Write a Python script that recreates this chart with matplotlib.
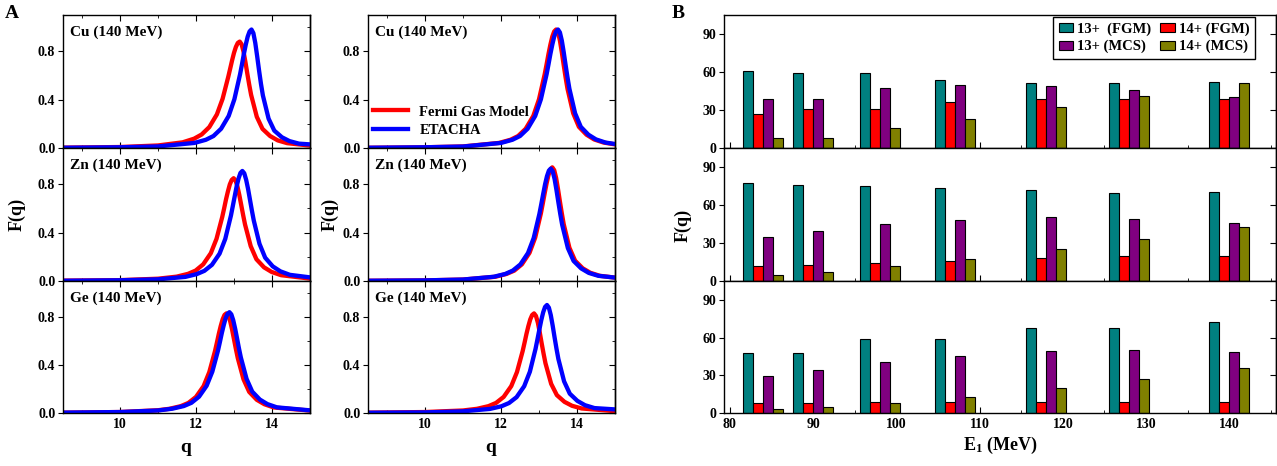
import matplotlib
matplotlib.use("Agg")
import matplotlib.pyplot as plt
from matplotlib.ticker import MultipleLocator
from matplotlib.patches import Patch

plt.rcParams['font.family'] = ['Liberation Serif', 'DejaVu Serif']
plt.rcParams['font.weight'] = 'bold'
plt.rcParams['axes.labelweight'] = 'bold'
plt.rcParams['axes.linewidth'] = 1.0
plt.rcParams['mathtext.fontset'] = 'custom'
plt.rcParams['mathtext.rm'] = 'Liberation Serif:bold'
plt.rcParams['mathtext.it'] = 'Liberation Serif:bold'

# ---- panel A: F(q) profiles, Fermi gas model (red) vs ETACHA (blue) ----
# left column
cu_l_fgm_q = [8.5, 10, 11, 11.65, 11.95, 12.15, 12.35, 12.55, 12.7, 12.85, 12.9, 12.95, 13.0, 13.05, 13.1,
              13.15, 13.2, 13.25, 13.3, 13.35, 13.4, 13.45, 13.6, 13.75, 13.95, 14.15, 14.4, 15]
cu_l_fgm_f = [0.003, 0.008, 0.021, 0.047, 0.077, 0.112, 0.173, 0.278, 0.407, 0.590, 0.657, 0.725, 0.787,
              0.836, 0.869, 0.88, 0.858, 0.798, 0.712, 0.616, 0.524, 0.44, 0.258, 0.158, 0.099, 0.063,
              0.040, 0.020]
cu_l_eta_q = [8.5, 10, 11, 11.96, 12.26, 12.46, 12.66, 12.86, 13.01, 13.16, 13.21, 13.26, 13.31, 13.36,
              13.41, 13.46, 13.51, 13.56, 13.61, 13.66, 13.71, 13.76, 13.91, 14.06, 14.26, 14.46, 14.71, 15]
cu_l_eta_f = [0.002, 0.006, 0.013, 0.042, 0.068, 0.099, 0.159, 0.265, 0.403, 0.610, 0.692, 0.778, 0.855,
              0.921, 0.964, 0.98, 0.950, 0.869, 0.758, 0.640, 0.530, 0.435, 0.243, 0.144, 0.089, 0.057,
              0.036, 0.030]

zn_l_fgm_q = [8.5, 10, 11, 11.49, 11.79, 11.99, 12.19, 12.39, 12.54, 12.69, 12.74, 12.79, 12.84, 12.89,
              12.94, 12.99, 13.04, 13.09, 13.14, 13.19, 13.24, 13.29, 13.44, 13.59, 13.79, 13.99, 14.24, 15]
zn_l_fgm_f = [0.003, 0.007, 0.019, 0.036, 0.059, 0.086, 0.138, 0.230, 0.349, 0.529, 0.600, 0.675, 0.741,
              0.799, 0.836, 0.85, 0.832, 0.782, 0.711, 0.629, 0.546, 0.468, 0.288, 0.180, 0.113, 0.075,
              0.048, 0.020]
zn_l_eta_q = [8.5, 10, 11, 11.72, 12.02, 12.22, 12.42, 12.62, 12.77, 12.92, 12.97, 13.02, 13.07, 13.12,
              13.17, 13.22, 13.27, 13.32, 13.37, 13.42, 13.47, 13.52, 13.67, 13.82, 14.02, 14.22, 14.47, 15]
zn_l_eta_f = [0.002, 0.006, 0.014, 0.034, 0.057, 0.084, 0.134, 0.226, 0.348, 0.542, 0.622, 0.703, 0.783,
              0.848, 0.894, 0.91, 0.891, 0.837, 0.762, 0.673, 0.584, 0.501, 0.308, 0.193, 0.121, 0.080,
              0.051, 0.030]

ge_l_fgm_q = [8.5, 10, 11, 11.3, 11.6, 11.8, 12.0, 12.2, 12.35, 12.5, 12.55, 12.6, 12.65, 12.7, 12.75,
              12.8, 12.85, 12.9, 12.95, 13.0, 13.05, 13.1, 13.25, 13.4, 13.6, 13.8, 14.05, 15]
ge_l_fgm_f = [0.003, 0.008, 0.023, 0.035, 0.057, 0.084, 0.134, 0.224, 0.341, 0.516, 0.586, 0.659, 0.724,
              0.780, 0.817, 0.83, 0.813, 0.764, 0.695, 0.614, 0.533, 0.457, 0.281, 0.176, 0.110, 0.073,
              0.046, 0.020]
ge_l_eta_q = [8.5, 10, 11, 11.38, 11.68, 11.88, 12.08, 12.28, 12.43, 12.58, 12.63, 12.68, 12.73, 12.78,
              12.83, 12.88, 12.93, 12.98, 13.03, 13.08, 13.13, 13.18, 13.33, 13.48, 13.68, 13.88, 14.13, 15]
ge_l_eta_f = [0.003, 0.008, 0.021, 0.036, 0.058, 0.085, 0.136, 0.227, 0.345, 0.522, 0.593, 0.667, 0.732,
              0.790, 0.827, 0.84, 0.822, 0.773, 0.703, 0.622, 0.539, 0.463, 0.285, 0.178, 0.112, 0.074,
              0.047, 0.022]

# right column
cu_r_fgm_q = [8.5, 10, 11, 11.95, 12.25, 12.45, 12.65, 12.85, 13.0, 13.15, 13.2, 13.25, 13.3, 13.35, 13.4,
              13.45, 13.5, 13.55, 13.6, 13.65, 13.7, 13.75, 13.9, 14.05, 14.25, 14.45, 14.7, 15]
cu_r_fgm_f = [0.002, 0.006, 0.013, 0.042, 0.068, 0.099, 0.159, 0.265, 0.403, 0.610, 0.692, 0.778, 0.855,
              0.921, 0.964, 0.98, 0.956, 0.889, 0.793, 0.686, 0.584, 0.490, 0.287, 0.175, 0.110, 0.071,
              0.045, 0.030]
cu_r_eta_q = [8.5, 10, 11, 12.0, 12.3, 12.5, 12.7, 12.9, 13.05, 13.2, 13.25, 13.3, 13.35, 13.4, 13.45,
              13.5, 13.55, 13.6, 13.65, 13.7, 13.75, 13.8, 13.95, 14.1, 14.3, 14.5, 14.75, 15]
cu_r_eta_f = [0.002, 0.006, 0.012, 0.042, 0.068, 0.099, 0.159, 0.265, 0.403, 0.610, 0.692, 0.778, 0.855,
              0.921, 0.964, 0.98, 0.956, 0.889, 0.793, 0.686, 0.584, 0.490, 0.287, 0.175, 0.110, 0.071,
              0.045, 0.033]

zn_r_fgm_q = [8.5, 10, 11, 11.85, 12.15, 12.35, 12.55, 12.75, 12.9, 13.05, 13.1, 13.15, 13.2, 13.25, 13.3,
              13.35, 13.4, 13.45, 13.5, 13.55, 13.6, 13.65, 13.8, 13.95, 14.15, 14.35, 14.6, 15]
zn_r_fgm_f = [0.002, 0.005, 0.012, 0.035, 0.059, 0.086, 0.138, 0.233, 0.359, 0.560, 0.642, 0.727, 0.808,
              0.876, 0.923, 0.94, 0.917, 0.853, 0.760, 0.658, 0.560, 0.470, 0.275, 0.168, 0.105, 0.068,
              0.043, 0.028]
zn_r_eta_q = [8.5, 10, 11, 11.81, 12.11, 12.31, 12.51, 12.71, 12.86, 13.01, 13.06, 13.11, 13.16, 13.21,
              13.26, 13.31, 13.36, 13.41, 13.46, 13.51, 13.56, 13.61, 13.76, 13.91, 14.11, 14.31, 14.56, 15]
zn_r_eta_f = [0.002, 0.005, 0.012, 0.035, 0.058, 0.086, 0.137, 0.231, 0.355, 0.554, 0.635, 0.719, 0.800,
              0.867, 0.913, 0.93, 0.907, 0.844, 0.752, 0.651, 0.554, 0.465, 0.272, 0.166, 0.104, 0.067,
              0.043, 0.028]

ge_r_fgm_q = [8.5, 10, 11, 11.37, 11.67, 11.87, 12.07, 12.27, 12.42, 12.57, 12.62, 12.67, 12.72, 12.77,
              12.82, 12.87, 12.92, 12.97, 13.02, 13.07, 13.12, 13.17, 13.32, 13.47, 13.67, 13.87, 14.12, 15]
ge_r_fgm_f = [0.003, 0.008, 0.021, 0.035, 0.057, 0.084, 0.134, 0.224, 0.341, 0.516, 0.586, 0.659, 0.724,
              0.780, 0.817, 0.83, 0.809, 0.753, 0.671, 0.581, 0.495, 0.415, 0.243, 0.149, 0.093, 0.060,
              0.038, 0.015]
ge_r_eta_q = [8.5, 10, 11, 11.71, 12.01, 12.21, 12.41, 12.61, 12.76, 12.91, 12.96, 13.01, 13.06, 13.11,
              13.16, 13.21, 13.26, 13.31, 13.36, 13.41, 13.46, 13.51, 13.66, 13.81, 14.01, 14.21, 14.46, 15]
ge_r_eta_f = [0.002, 0.005, 0.014, 0.034, 0.056, 0.083, 0.132, 0.223, 0.344, 0.536, 0.615, 0.696, 0.774,
              0.839, 0.884, 0.90, 0.878, 0.816, 0.728, 0.630, 0.536, 0.450, 0.264, 0.161, 0.101, 0.065,
              0.041, 0.030]

ion_labels = ['Cu (140 MeV)', 'Zn (140 MeV)', 'Ge (140 MeV)']

# ---- panel B: charge state fractions vs beam energy ----
energy = [84, 90, 98, 107, 118, 128, 140]

q13_fgm_1 = [61, 59, 59, 53.5, 51.5, 51.5, 52]
q14_fgm_1 = [27, 30.5, 31, 36.5, 39, 39, 39]
q13_mcs_1 = [39, 39, 47.5, 49.5, 49, 46, 40.5]
q14_mcs_1 = [8, 8, 16, 23, 32.5, 41, 51]

q13_fgm_2 = [77, 76, 75, 73.5, 71.5, 69.5, 70]
q14_fgm_2 = [12, 12.5, 14.5, 16, 18, 20, 20]
q13_mcs_2 = [34.5, 39.5, 45, 48.5, 50.5, 49, 45.5]
q14_mcs_2 = [5, 7.5, 11.5, 17, 25.5, 33.5, 43]

q13_fgm_3 = [47.5, 48, 58.5, 58.5, 67.5, 67.5, 72.5]
q14_fgm_3 = [8, 8, 8.5, 9, 9, 9, 9]
q13_mcs_3 = [29.5, 34.5, 40.5, 45.5, 49.5, 50, 48.5]
q14_mcs_3 = [3, 5, 8, 12.5, 19.5, 27, 36]

series_labels = ['13+  (FGM)', '14+ (FGM)', '13+ (MCS)', '14+ (MCS)']
series_colors = ['#008080', '#ff0000', '#800080', '#808000']

W, H = 1277, 466
fig = plt.figure(figsize=(W / 100, H / 100), dpi=100)


def px_axes(x0, y0, x1, y1):
    return fig.add_axes([x0 / W, 1 - y1 / H, (x1 - x0) / W, (y1 - y0) / H])


def inner_right(ax, major, minor=None):
    sec = ax.secondary_yaxis('right')
    sec.yaxis.set_major_locator(MultipleLocator(major))
    if minor:
        sec.yaxis.set_minor_locator(MultipleLocator(minor))
    sec.tick_params(which='both', direction='in', labelright=False)
    sec.tick_params(which='major', length=4)
    sec.tick_params(which='minor', length=2.5)


rows = [(15, 148), (148, 281), (281, 413)]
cols_a = [(63, 310), (368, 615)]

curves = [
    [(cu_l_fgm_q, cu_l_fgm_f, cu_l_eta_q, cu_l_eta_f),
     (zn_l_fgm_q, zn_l_fgm_f, zn_l_eta_q, zn_l_eta_f),
     (ge_l_fgm_q, ge_l_fgm_f, ge_l_eta_q, ge_l_eta_f)],
    [(cu_r_fgm_q, cu_r_fgm_f, cu_r_eta_q, cu_r_eta_f),
     (zn_r_fgm_q, zn_r_fgm_f, zn_r_eta_q, zn_r_eta_f),
     (ge_r_fgm_q, ge_r_fgm_f, ge_r_eta_q, ge_r_eta_f)],
]

for c, (x0, x1) in enumerate(cols_a):
    for r, (y0, y1) in enumerate(rows):
        ax = px_axes(x0, y0, x1, y1)
        fq, ff, eq, ef = curves[c][r]
        ax.plot(fq, ff, color='#ff0000', lw=3.1, solid_joinstyle='round', label='Fermi Gas Model')
        ax.plot(eq, ef, color='#0000ff', lw=3.1, solid_joinstyle='round', label='ETACHA')
        ax.set_xlim(8.5, 15)
        ax.set_ylim(0, 1.1)
        ax.xaxis.set_major_locator(MultipleLocator(2))
        ax.xaxis.set_minor_locator(MultipleLocator(1))
        ax.yaxis.set_major_locator(MultipleLocator(0.4))
        ax.yaxis.set_minor_locator(MultipleLocator(0.2))
        ax.tick_params(axis='x', which='both', direction='in', top=True, bottom=True,
                       labelbottom=(r == 2), labelsize=10)
        ax.tick_params(axis='x', which='major', length=4)
        ax.tick_params(axis='x', which='minor', length=2.5)
        ax.tick_params(axis='y', which='major', direction='out', length=3.5, labelsize=10, pad=2)
        ax.tick_params(axis='y', which='minor', left=False)
        inner_right(ax, 0.4, 0.2)
        for lab in ax.get_xticklabels() + ax.get_yticklabels():
            lab.set_fontweight('bold')
        ax.text(0.028, 0.872, ion_labels[r], transform=ax.transAxes, fontsize=11,
                fontweight='bold', va='center', ha='left')
        if c == 1 and r == 0:
            ax.legend(loc='lower left', bbox_to_anchor=(-0.005, 0.04), frameon=False,
                      handlelength=2.4, handletextpad=0.8, labelspacing=0.35,
                      borderaxespad=0, prop={'size': 10.5, 'weight': 'bold'})

fig.text(17 / W, 1 - 214 / H, 'F(q)', rotation=90, fontsize=13, fontweight='bold',
         ha='center', va='center')
fig.text(330 / W, 1 - 214 / H, 'F(q)', rotation=90, fontsize=13, fontweight='bold',
         ha='center', va='center')
fig.text(186 / W, 1 - 447 / H, 'q', fontsize=14, fontweight='bold', ha='center', va='center')
fig.text(491 / W, 1 - 447 / H, 'q', fontsize=14, fontweight='bold', ha='center', va='center')
fig.text(12 / W, 1 - 14 / H, 'A', fontsize=14, fontweight='bold', ha='center', va='center')

# bar panels
bars = [
    (q13_fgm_1, q14_fgm_1, q13_mcs_1, q14_mcs_1),
    (q13_fgm_2, q14_fgm_2, q13_mcs_2, q14_mcs_2),
    (q13_fgm_3, q14_fgm_3, q13_mcs_3, q14_mcs_3),
]
bw = 1.2
for r, (y0, y1) in enumerate(rows):
    ax = px_axes(724, y0, 1276, y1)
    ax.set_axisbelow(True)
    for k, vals in enumerate(bars[r]):
        xs = [e + (k - 1.5) * bw for e in energy]
        ax.bar(xs, vals, width=bw, color=series_colors[k], edgecolor='black', linewidth=0.8)
    ax.set_xlim(79.3, 145.6)
    ax.set_ylim(0, 105)
    ax.xaxis.set_major_locator(MultipleLocator(10))
    ax.xaxis.set_minor_locator(MultipleLocator(5))
    ax.yaxis.set_major_locator(MultipleLocator(30))
    ax.tick_params(axis='x', which='both', direction='in', labelbottom=(r == 2), labelsize=10)
    ax.tick_params(axis='x', which='major', length=4)
    ax.tick_params(axis='x', which='minor', length=2.5)
    ax.tick_params(axis='y', which='major', direction='out', length=3.5, labelsize=10, pad=2)
    inner_right(ax, 30)
    for lab in ax.get_xticklabels() + ax.get_yticklabels():
        lab.set_fontweight('bold')
    if r == 0:
        handles = [Patch(facecolor=series_colors[i], edgecolor='black', linewidth=0.8)
                   for i in (0, 2, 1, 3)]
        labels = [series_labels[i] for i in (0, 2, 1, 3)]
        leg = ax.legend(handles, labels, ncol=2, loc='upper right', bbox_to_anchor=(0.962, 0.985),
                        fancybox=False, edgecolor='black', framealpha=1,
                        handlelength=1.0, handleheight=0.6, handletextpad=0.3,
                        columnspacing=0.6, labelspacing=0.3, borderpad=0.35, borderaxespad=0,
                        prop={'size': 10.5, 'weight': 'bold'})
        leg.get_frame().set_linewidth(1.0)

fig.text(683 / W, 1 - 225 / H, 'F(q)', rotation=90, fontsize=13, fontweight='bold',
         ha='center', va='center')
fig.text(1000 / W, 1 - 445 / H, r'$\mathrm{E_1}$ (MeV)', fontsize=13, fontweight='bold',
         ha='center', va='center')
fig.text(678 / W, 1 - 14 / H, 'B', fontsize=14, fontweight='bold', ha='center', va='center')

fig.savefig('out.png', dpi=100)
